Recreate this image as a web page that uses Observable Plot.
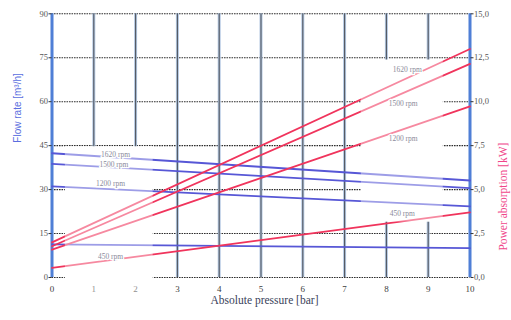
<!DOCTYPE html>
<html><head><meta charset="utf-8">
<script src="https://cdn.jsdelivr.net/npm/d3@7"></script>
<script src="https://cdn.jsdelivr.net/npm/@observablehq/plot@0.6"></script>
<style>body{margin:0;background:#fff}</style>
</head><body><div id="chart"></div>
<script>
// Data
const pressureBar = [0, 10];
const rpmNames = ["1620 rpm", "1500 rpm", "1200 rpm", "450 rpm"];
// Flow rate [m³/h] at 0 and 10 bar
const flow1620 = [42.4, 33.1];
const flow1500 = [38.8, 30.5];
const flow1200 = [31.1, 24.3];
const flow450 = [11.3, 10.0];
// Power absorption [kW] at 0 and 10 bar
const power1620 = [2.0, 13.0];
const power1500 = [1.78, 12.15];
const power1200 = [1.58, 9.73];
const power450 = [0.55, 3.7];

const flowTicks = [0, 15, 30, 45, 60, 75, 90];
const powerTickLabels = ["0,0", "2,5", "5,0", "7,5", "10,0", "12,5", "15,0"];
const pressureTicks = [0, 1, 2, 3, 4, 5, 6, 7, 8, 9, 10];

// label anchor points (data units)
const flowLabelX = [1.52, 1.48, 1.4, 1.4];
const flowLabelY = [42.0, 38.6, 32.2, 7.2];
const powerLabelX = [8.5, 8.4, 8.4, 8.38];
const powerLabelY = [71.0, 59.3, 47.3, 21.7];

// white label panels (data units)
const panelX1 = [0.32, 7.4];
const panelX2 = [2.42, 9.36];
const panelY1 = [-6, 18.9];
const panelY2 = [44.6, 74.2];

const flowSeries = [flow1620, flow1500, flow1200, flow450];
const powerSeries = [power1620, power1500, power1200, power450];
const flowRows = rpmNames.flatMap((rpm, i) => pressureBar.map((p, j) => ({rpm, p, v: flowSeries[i][j]})));
const powerRows = rpmNames.flatMap((rpm, i) => pressureBar.map((p, j) => ({rpm, p, kw: powerSeries[i][j]})));
const flowLabels = rpmNames.map((t, i) => ({t, x: flowLabelX[i], y: flowLabelY[i]}));
const powerLabels = rpmNames.map((t, i) => ({t, x: powerLabelX[i], y: powerLabelY[i]}));
const panels = panelX1.map((x1, i) => ({x1, x2: panelX2[i], y1: panelY1[i], y2: panelY2[i]}));
const inner = pressureTicks.filter(d => d > 0 && d < 10);
const serif = "Liberation Serif";

const chart = Plot.plot({
  width: 511,
  height: 320,
  marginLeft: 51.5,
  marginRight: 41.5,
  marginTop: 13.3,
  marginBottom: 43,
  x: {domain: [0, 10]},
  y: {domain: [0, 90]},
  style: {fontFamily: serif, background: "white", overflow: "visible"},
  marks: [
    Plot.ruleY(flowTicks, {stroke: "#2e2e2e", strokeWidth: 1.1, strokeDasharray: "1.6,0.9"}),
    Plot.ruleX(inner, {stroke: "#b4c8e2", strokeWidth: 3}),
    Plot.ruleX(inner, {stroke: "#50565f", strokeWidth: 1.1}),
    Plot.rect(panels, {x1: "x1", x2: "x2", y1: "y1", y2: "y2", fill: "white"}),
    Plot.ruleX([0, 10], {stroke: "#4f7fd6", strokeWidth: 3}),
    Plot.axisX(pressureTicks, {tickSize: 0, tickPadding: 8, fontSize: 9, fontFamily: serif, fill: "#3c3c3c", label: null}),
    Plot.axisY(flowTicks, {anchor: "left", tickSize: 3, tickPadding: 1, fontSize: 8.5, fontFamily: serif, fill: "#555", stroke: "#333", label: null}),
    Plot.axisY(flowTicks, {anchor: "right", tickSize: 3, tickPadding: 1, fontSize: 8.5, fontFamily: serif, fill: "#555", stroke: "#333", label: null,
      tickFormat: d => powerTickLabels[flowTicks.indexOf(d)]}),
    Plot.line(flowRows, {x: "p", y: "v", z: "rpm", stroke: "#5757d6", strokeWidth: 1.8}),
    Plot.line(powerRows, {x: "p", y: d => d.kw * 6, z: "rpm", stroke: "#f0345c", strokeWidth: 1.8}),
    Plot.rect(panels, {x1: "x1", x2: "x2", y1: "y1", y2: "y2", fill: "white", fillOpacity: 0.42}),
    Plot.text(flowLabels, {x: "x", y: "y", text: "t", fontSize: 7.5, fontFamily: serif, fill: "#8a8a9a", stroke: "white", strokeWidth: 2.5}),
    Plot.text(powerLabels, {x: "x", y: "y", text: "t", fontSize: 7.5, fontFamily: serif, fill: "#8a8a9a", stroke: "white", strokeWidth: 2.5}),
    Plot.text(["Absolute pressure [bar]"], {frameAnchor: "bottom", dx: 3.5, dy: 26, fontSize: 11.5, fontFamily: serif, fill: "#3a3f5a"}),
    Plot.text(["Flow rate [m³/h]"], {frameAnchor: "left", rotate: -90, dx: -34.5, dy: -3, fontSize: 10, fontFamily: "Liberation Sans", fill: "#5a6ee0"}),
    Plot.text(["Power absorption [kW]"], {frameAnchor: "right", rotate: -90, dx: 33.5, dy: -3, fontSize: 11.5, fontFamily: serif, fill: "#f0468a"})
  ]
});
document.getElementById("chart").append(chart);
</script>
</body></html>
